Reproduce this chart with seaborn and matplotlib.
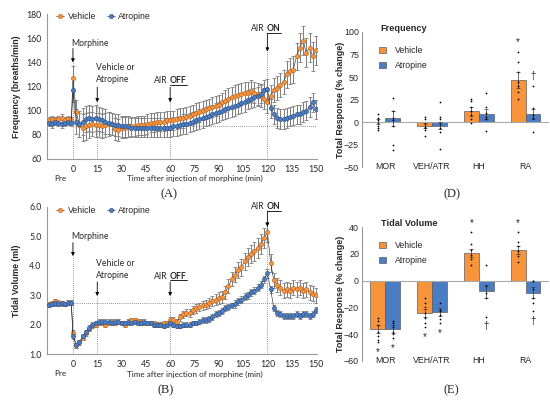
import matplotlib
matplotlib.use('Agg')
import matplotlib.pyplot as plt
import matplotlib.transforms as mtrans
from matplotlib.lines import Line2D
import pandas as pd
import seaborn as sns

# ---- time course data (A: frequency, B: tidal volume), pre + every 2 min ----
minutes = [-15, -13, -11, -9, -7, -5, -3, -1] + list(range(0, 151, 2))

freq_vehicle = [
    92, 93, 92, 93, 94, 92, 93, 92,
    127, 99, 88, 86, 87, 88, 89, 88, 88, 87,
    88, 89, 89, 85, 84, 86, 86, 87, 87, 87,
    88, 88, 88, 89, 90, 90, 91, 91, 91, 92,
    92, 92, 93, 94, 94, 95, 96, 97, 98, 99,
    100, 101, 102, 103, 104, 105, 107, 108, 110, 111,
    112, 113, 114, 115, 115, 116, 115, 114, 112, 110,
    107, 112, 117, 119, 121, 124, 130, 133, 134, 145,
    152, 158, 148, 152, 145, 150]
freq_vehicle_sem = [
    3, 3, 3, 3, 3, 3, 3, 3,
    10, 10, 10, 11, 11, 11, 10, 10, 10, 10,
    10, 10, 9, 9, 9, 9, 9, 9, 8, 8,
    8, 8, 8, 8, 8, 8, 8, 8, 8, 8,
    8, 8, 8, 8, 8, 8, 8, 8, 8, 8,
    8, 8, 8, 8, 8, 8, 8, 9, 9, 9,
    9, 9, 9, 9, 9, 9, 9, 9, 9, 9,
    9, 9, 10, 10, 10, 10, 11, 11, 11, 11,
    12, 12, 12, 12, 12, 12]
freq_atropine = [
    90, 89, 91, 90, 89, 90, 91, 90,
    117, 91, 89, 91, 93, 94, 93, 94, 93, 92,
    91, 90, 89, 88, 88, 87, 87, 87, 86, 86,
    86, 86, 86, 86, 86, 86, 86, 86, 86, 86,
    86, 87, 87, 88, 89, 89, 90, 91, 92, 93,
    94, 95, 96, 97, 98, 99, 100, 101, 102, 103,
    104, 105, 106, 107, 109, 110, 111, 112, 114, 117,
    118, 102, 97, 94, 93, 93, 94, 95, 96, 97,
    97, 99, 100, 103, 107, 101]
freq_atropine_sem = [
    3, 3, 3, 3, 3, 3, 3, 3,
    10, 10, 11, 11, 11, 11, 11, 11, 10, 10,
    10, 9, 9, 9, 9, 9, 9, 9, 8, 8,
    8, 8, 8, 8, 8, 8, 8, 8, 8, 8,
    8, 8, 8, 8, 8, 8, 8, 8, 8, 8,
    8, 8, 8, 8, 8, 8, 8, 8, 8, 8,
    8, 8, 8, 8, 8, 8, 8, 8, 8, 8,
    8, 8, 8, 8, 8, 8, 8, 8, 8, 8,
    8, 8, 8, 8, 8, 8]

vt_vehicle = [
    2.70, 2.72, 2.80, 2.75, 2.72, 2.70, 2.75, 2.74,
    1.70, 1.30, 1.40, 1.55, 1.70, 1.85, 1.95, 2.00, 2.05, 2.05,
    2.00, 2.05, 2.10, 2.05, 2.10, 2.05, 2.00, 2.05, 2.15, 2.15,
    2.10, 2.10, 2.05, 2.05, 2.05, 2.05, 2.00, 2.00, 2.05, 2.05,
    2.15, 2.15, 2.10, 2.25, 2.35, 2.40, 2.40, 2.50, 2.55, 2.60,
    2.65, 2.68, 2.72, 2.80, 2.85, 2.90, 2.95, 3.10, 3.30, 3.55,
    3.70, 3.85, 3.95, 4.15, 4.30, 4.40, 4.50, 4.60, 4.75, 4.95,
    5.15, 4.10, 3.50, 3.35, 3.25, 3.15, 3.20, 3.15, 3.25, 3.20,
    3.25, 3.15, 3.20, 3.10, 3.05, 3.00]
vt_vehicle_sem = [
    0.08, 0.08, 0.08, 0.08, 0.08, 0.08, 0.08, 0.08,
    0.10, 0.08, 0.08, 0.08, 0.08, 0.08, 0.08, 0.08, 0.08, 0.08,
    0.08, 0.08, 0.08, 0.08, 0.08, 0.08, 0.08, 0.08, 0.08, 0.08,
    0.08, 0.08, 0.08, 0.08, 0.08, 0.08, 0.08, 0.08, 0.08, 0.08,
    0.10, 0.10, 0.10, 0.12, 0.12, 0.12, 0.14, 0.14, 0.14, 0.15,
    0.16, 0.16, 0.17, 0.18, 0.18, 0.20, 0.20, 0.22, 0.24, 0.25,
    0.26, 0.27, 0.28, 0.30, 0.30, 0.32, 0.32, 0.33, 0.34, 0.35,
    0.35, 0.30, 0.25, 0.25, 0.25, 0.25, 0.25, 0.25, 0.25, 0.25,
    0.25, 0.25, 0.25, 0.25, 0.25, 0.25]
vt_atropine = [
    2.68, 2.70, 2.72, 2.70, 2.72, 2.70, 2.74, 2.75,
    1.60, 1.30, 1.40, 1.60, 1.75, 1.90, 2.00, 2.05, 2.10, 2.10,
    2.10, 2.10, 2.05, 2.10, 2.10, 2.05, 2.05, 2.10, 2.05, 2.10,
    2.05, 2.05, 2.10, 2.05, 2.05, 2.00, 2.00, 2.00, 1.95, 2.00,
    2.05, 2.00, 1.95, 1.95, 2.00, 2.00, 2.00, 2.05, 2.05, 2.10,
    2.15, 2.15, 2.20, 2.25, 2.35, 2.40, 2.45, 2.55, 2.60, 2.65,
    2.70, 2.80, 2.85, 2.95, 3.00, 3.10, 3.15, 3.25, 3.35, 3.55,
    3.75, 3.20, 2.55, 2.40, 2.35, 2.30, 2.30, 2.30, 2.30, 2.35,
    2.30, 2.35, 2.35, 2.30, 2.35, 2.50]
vt_atropine_sem = [
    0.08, 0.08, 0.08, 0.08, 0.08, 0.08, 0.08, 0.08,
    0.10, 0.08, 0.08, 0.08, 0.08, 0.08, 0.08, 0.08, 0.08, 0.08,
    0.08, 0.08, 0.08, 0.08, 0.08, 0.08, 0.08, 0.08, 0.08, 0.08,
    0.08, 0.08, 0.08, 0.08, 0.08, 0.08, 0.08, 0.08, 0.08, 0.08,
    0.08, 0.08, 0.08, 0.08, 0.08, 0.08, 0.08, 0.08, 0.08, 0.08,
    0.10, 0.10, 0.10, 0.10, 0.10, 0.10, 0.10, 0.10, 0.10, 0.10,
    0.12, 0.12, 0.12, 0.12, 0.12, 0.12, 0.12, 0.12, 0.12, 0.12,
    0.15, 0.12, 0.10, 0.10, 0.10, 0.10, 0.10, 0.10, 0.10, 0.10,
    0.10, 0.10, 0.10, 0.10, 0.10, 0.10]

freq_baseline = 87.3
vt_baseline = 2.72

# ---- total response bars (D: frequency, E: tidal volume) ----
phases = ['MOR', 'VEH/ATR', 'HH', 'RA']

freq_veh_mean = [0.5, -4, 12, 47]
freq_veh_sem = [3, 3, 5, 9]
freq_atr_mean = [4, -4, 9, 9]
freq_atr_sem = [8, 4, 6, 6]
freq_veh_pts = [[9, 5, 2, -1, -4, -7, -9], [6, 3, -2, -5, -7, -9, -16],
                [26, 23, 17, 12, 8, 3, -1], [78, 67, 56, 44, 40, 33, 26]]
freq_atr_pts = [[27, 12, 5, 2, -4, -26, -31], [22, 6, 3, -2, -7, -11, -30],
                [32, 17, 10, 6, 3, -10], [40, 16, 8, 4, -11]]
freq_veh_sig = ['', '', '', '*']
freq_atr_sig = ['', '', '', '\u2020']

vt_veh_mean = [-36, -24, 20.5, 23]
vt_veh_sem = [3, 3, 3, 3]
vt_atr_mean = [-36, -23.5, -8, -9]
vt_atr_sem = [3, 3, 5, 4]
vt_veh_pts = [[-28, -30, -33, -38, -41, -44, -46], [-13, -17, -20, -24, -28, -32, -35],
              [36, 27, 23, 19, 16, 12], [36, 29, 26, 22, 18, 14]]
vt_atr_pts = [[-30, -32, -35, -38, -40, -43], [-17, -22, -23, -26, -29, -32],
              [12, -4, -9, -13, -27], [0, 0, -6, -13, -17, -23]]
vt_veh_sig = ['*', '*', '*', '*']
vt_atr_sig = ['*', '*', '\u2020', '\u2020']

ORANGE = '#F7943C'
ORANGE_EDGE = '#B8621E'
BLUE = '#4A7DC4'
BLUE_EDGE = '#2B4F86'
SPINE = '#9a9a9a'
TS_FONT = 'Lato'

sns.set_style('white')
plt.rcParams['font.family'] = ['Liberation Sans', 'DejaVu Sans']

fig = plt.figure(figsize=(5.5, 4.01), dpi=100)
axA = fig.add_axes([0.0855, 0.6035, 0.4905, 0.3615])
axB = fig.add_axes([0.0855, 0.1172, 0.4905, 0.3666])
axD = fig.add_axes([0.658, 0.5835, 0.340, 0.3367])
axE = fig.add_axes([0.658, 0.0998, 0.340, 0.3341])

underlined = []


def time_panel(ax, veh, veh_sem, atr, atr_sem, baseline, ylim, yticks, yfmt, ylabel, legend_y):
    for vals, sem in ((veh, veh_sem), (atr, atr_sem)):
        ax.errorbar(minutes, vals, yerr=sem, fmt='none', ecolor='#808080',
                    elinewidth=0.75, capsize=1.4, capthick=0.6, zorder=1)
    sns.lineplot(x=minutes, y=veh, ax=ax, color='#1a1a1a', lw=0.4, marker='o', ms=3.1,
                 mfc=ORANGE, mec=ORANGE_EDGE, mew=0.4, label='Vehicle', errorbar=None, zorder=3)
    sns.lineplot(x=minutes, y=atr, ax=ax, color='#1a1a1a', lw=0.4, marker='o', ms=3.1,
                 mfc=BLUE, mec=BLUE_EDGE, mew=0.4, label='Atropine', errorbar=None, zorder=4)
    ax.hlines(baseline, 0, 150, colors='#707070', linestyles=(0, (1, 1.5)), lw=0.6, zorder=2)
    ax.set_xlim(-16, 150.5)
    ax.set_ylim(*ylim)
    ax.set_xticks(range(0, 151, 15))
    ax.set_yticks(yticks)
    ax.set_yticklabels([yfmt.format(v) for v in yticks])
    for s in ('top', 'right'):
        ax.spines[s].set_visible(False)
    for s in ('left', 'bottom'):
        ax.spines[s].set_color(SPINE)
        ax.spines[s].set_linewidth(0.8)
    ax.tick_params(length=2, width=0.6, color=SPINE, pad=2, labelsize=6.3)
    for lbl in ax.get_xticklabels() + ax.get_yticklabels():
        lbl.set_fontfamily(TS_FONT)
    ax.set_ylabel(ylabel, fontsize=6.3, fontweight='bold')
    ax.yaxis.set_label_coords(-0.097, 0.5)
    ax.set_xlabel('Time after injection of morphine (min)', fontsize=5.9, family=TS_FONT)
    ax.xaxis.set_label_coords(0.548, -0.112)
    trans = mtrans.blended_transform_factory(ax.transData, ax.transAxes)
    ax.text(-8, -0.112, 'Pre', transform=trans, ha='center', va='top', fontsize=5.9, family=TS_FONT)
    ax.legend(loc='center left', bbox_to_anchor=(0.035, legend_y), frameon=False, ncol=2,
              fontsize=6.3, handlelength=0.9, handletextpad=0.4, columnspacing=1.2,
              borderpad=0, borderaxespad=0)


def events(ax, lo, morph, vehatr, airoff, airon):
    kw = dict(fontsize=6.2, family=TS_FONT, va='center')
    ax.text(-1, morph[0], 'Morphine', ha='left', **kw)
    ax.text(14, vehatr[0], 'Vehicle or\nAtropine', ha='left', linespacing=1.45, **kw)
    ax.text(58.3, airoff[0], 'AIR', ha='right', **kw)
    underlined.append(ax.text(59.8, airoff[0], 'OFF', ha='left', fontweight='bold', **kw))
    ax.text(118.3, airon[0], 'AIR', ha='right', **kw)
    underlined.append(ax.text(119.8, airon[0], 'ON', ha='left', fontweight='bold', **kw))
    for t, spec in ((0, morph), (15, vehatr), (60, airoff), (120, airon)):
        ax.annotate('', xy=(t, spec[2]), xytext=(t, spec[1]),
                    arrowprops=dict(arrowstyle='-|>', color='k', lw=0.6, mutation_scale=5,
                                    shrinkA=0, shrinkB=0), zorder=6)
        ax.vlines(t, lo, spec[2], colors='#707070', linestyles=(0, (1, 1.5)), lw=0.6, zorder=2)


def bar_panel(ax, veh_mean, veh_sem, atr_mean, atr_sem, veh_pts, atr_pts, veh_sig, atr_sig,
              title, ylim, yticks):
    df = pd.DataFrame({'phase': phases + phases,
                       'group': ['Vehicle'] * 4 + ['Atropine'] * 4,
                       'value': veh_mean + atr_mean})
    sns.barplot(data=df, x='phase', y='value', hue='group', ax=ax, width=0.64, saturation=1,
                palette={'Vehicle': ORANGE, 'Atropine': BLUE}, errorbar=None,
                edgecolor='#5e5e5e', linewidth=0.5, zorder=2)
    for cont, mean, sem, pts, sig in ((ax.containers[0], veh_mean, veh_sem, veh_pts, veh_sig),
                                      (ax.containers[1], atr_mean, atr_sem, atr_pts, atr_sig)):
        xs = [p.get_x() + p.get_width() / 2 for p in cont.patches]
        ax.errorbar(xs, mean, yerr=sem, fmt='none', ecolor='#333333', elinewidth=0.5,
                    capsize=1.5, capthick=0.5, zorder=4)
        for x, m, vals, s in zip(xs, mean, pts, sig):
            ax.scatter([x] * len(vals), vals, s=1.6, color='k', linewidths=0, zorder=5)
            if s:
                end = max(vals) if m >= 0 else min(vals)
                ax.annotate(s, (x, end), xytext=(0, 7 if m >= 0 else -7), textcoords='offset points',
                            ha='center', va='center', fontsize=7, zorder=6)
    ax.axhline(0, color='#a8a8a8', lw=0.8, zorder=3)
    ax.set_ylim(*ylim)
    ax.set_xlim(-0.5, 3.5)
    ax.set_yticks(yticks)
    for s in ('top', 'right', 'bottom'):
        ax.spines[s].set_visible(False)
    ax.spines['left'].set_color(SPINE)
    ax.spines['left'].set_linewidth(0.8)
    ax.tick_params(axis='y', length=0, pad=2, labelsize=6.4, labelcolor='#262626')
    ax.tick_params(axis='x', length=0, pad=-3.6, labelsize=6.3, labelcolor='#262626')
    ax.set_xlabel('')
    ax.set_ylabel('Total Response (% change)', fontsize=6.4, fontweight='bold')
    ax.yaxis.set_label_coords(-0.088, 0.5)
    ax.text(0.10, 1.027, title, transform=ax.transAxes, ha='left', va='center',
            fontsize=6.6, fontweight='bold')
    ax.legend(loc='upper left', bbox_to_anchor=(0.094, 0.895), frameon=False, fontsize=6.3,
              handlelength=0.75, handleheight=0.75, handletextpad=1.0, labelspacing=0.7,
              borderpad=0, borderaxespad=0)


time_panel(axA, freq_vehicle, freq_vehicle_sem, freq_atropine, freq_atropine_sem, freq_baseline,
           (60, 180), list(range(60, 181, 20)), '{:.0f}', 'Frequency (breaths/min)', 0.985)
events(axA, 60, (156, 151.5, 140), (130.5, 119.5, 107), (125, 119.5, 107), (168, 164, 149))

time_panel(axB, vt_vehicle, vt_vehicle_sem, vt_atropine, vt_atropine_sem, vt_baseline,
           (1.0, 6.0), [1, 2, 3, 4, 5, 6], '{:.1f}', 'Tidal Volume (ml)', 0.975)
events(axB, 1.0, (5.0, 4.79, 4.33), (3.86, 3.45, 2.97), (3.65, 3.45, 2.97), (6.0, 5.86, 5.33))

bar_panel(axD, freq_veh_mean, freq_veh_sem, freq_atr_mean, freq_atr_sem, freq_veh_pts, freq_atr_pts,
          freq_veh_sig, freq_atr_sig, 'Frequency', (-50, 100), list(range(-50, 101, 25)))
bar_panel(axE, vt_veh_mean, vt_veh_sem, vt_atr_mean, vt_atr_sem, vt_veh_pts, vt_atr_pts,
          vt_veh_sig, vt_atr_sig, 'Tidal Volume', (-60, 40), list(range(-60, 41, 20)))

for label, x, y in (('(A)', 0.307, 0.515), ('(B)', 0.302, 0.026), ('(D)', 0.822, 0.515), ('(E)', 0.820, 0.026)):
    fig.text(x, y, label, ha='center', va='center', fontsize=9, family='Liberation Serif')

# underline the bold OFF / ON words
fig.canvas.draw()
inv = fig.transFigure.inverted()
for t in underlined:
    bb = t.get_window_extent()
    (x0, y0), (x1, _) = inv.transform([(bb.x0, bb.y0 + 0.3), (bb.x1, bb.y0)])
    fig.add_artist(Line2D([x0, x1], [y0, y0], transform=fig.transFigure, color='k', lw=0.6))

fig.savefig('out.png', dpi=100)
